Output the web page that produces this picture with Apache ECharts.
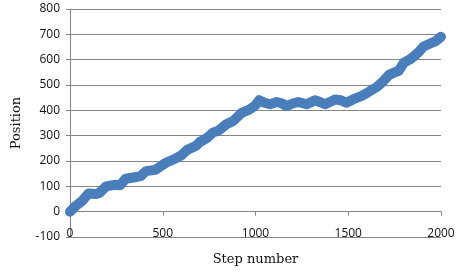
<!DOCTYPE html>
<html>
<head>
<meta charset="utf-8">
<script src="https://cdn.jsdelivr.net/npm/echarts@6/dist/echarts.min.js"></script>
<style>html,body{margin:0;padding:0;background:#fff}#c{width:466px;height:277px}</style>
</head>
<body>
<div id="c"></div>
<script>
var steps = [0,30,65,100,140,160,195,240,270,300,350,380,410,460,490,520,570,600,630,680,700,735,770,800,843,880,925,970,1000,1020,1050,1078,1114,1140,1168,1200,1231,1276,1321,1350,1375,1429,1460,1490,1528,1573,1600,1630,1654,1690,1720,1750,1771,1800,1830,1852,1880,1906,1942,1970,2000];
var positions = [0,22,42,72,70,75,100,106,104,130,136,140,160,165,180,194,210,222,243,260,275,289,312,320,345,358,390,404,420,440,430,424,433,428,417,427,433,424,440,432,424,443,440,430,444,457,468,482,492,516,540,550,555,588,600,612,630,652,664,672,690];
var yTicks = {min: -100, max: 800, interval: 100};
var xTicks = {min: 0, max: 2000, interval: 500};

var gridTop = 9, gridBottom = 40, H = 277;
var plotH = H - gridTop - gridBottom;
var zeroOffset = plotH * (0 - yTicks.min) / (yTicks.max - yTicks.min);

var data = steps.map(function (s, i) { return [s, positions[i]]; });
var chart = echarts.init(document.getElementById('c'), null, {renderer: 'canvas'});
var labelFont = {fontFamily: 'Open Sans', fontSize: 12, color: '#111'};
var plain = function (v) { return String(v); };
chart.setOption({
  animation: false,
  grid: {left: 70, right: 25, top: gridTop, bottom: gridBottom, outerBoundsMode: 'none', containLabel: false},
  xAxis: {
    type: 'value', min: xTicks.min, max: xTicks.max, interval: xTicks.interval,
    offset: -zeroOffset,
    name: 'Step number', nameLocation: 'middle', nameGap: 41,
    nameTextStyle: {fontFamily: 'DejaVu Serif', fontSize: 13, color: '#111'},
    axisLine: {onZero: false, lineStyle: {color: '#868686', width: 1}},
    axisTick: {show: true, length: 4, lineStyle: {color: '#868686'}},
    axisLabel: Object.assign({margin: 16, formatter: plain}, labelFont),
    splitLine: {show: false}
  },
  yAxis: {
    type: 'value', min: yTicks.min, max: yTicks.max, interval: yTicks.interval,
    name: 'Position', nameLocation: 'middle', nameGap: 47,
    nameTextStyle: {fontFamily: 'DejaVu Serif', fontSize: 13, color: '#111'},
    axisLine: {show: true, lineStyle: {color: '#868686', width: 1}},
    axisTick: {show: true, length: 4, lineStyle: {color: '#868686'}},
    axisLabel: Object.assign({margin: 10, formatter: plain}, labelFont),
    splitLine: {show: true, lineStyle: {color: '#868686', width: 1}}
  },
  series: [{
    type: 'line', data: data, showSymbol: false, symbol: 'none',
    lineStyle: {color: '#4A7EBB', width: 10, join: 'round', cap: 'round'}
  }]
});
</script>
</body>
</html>
